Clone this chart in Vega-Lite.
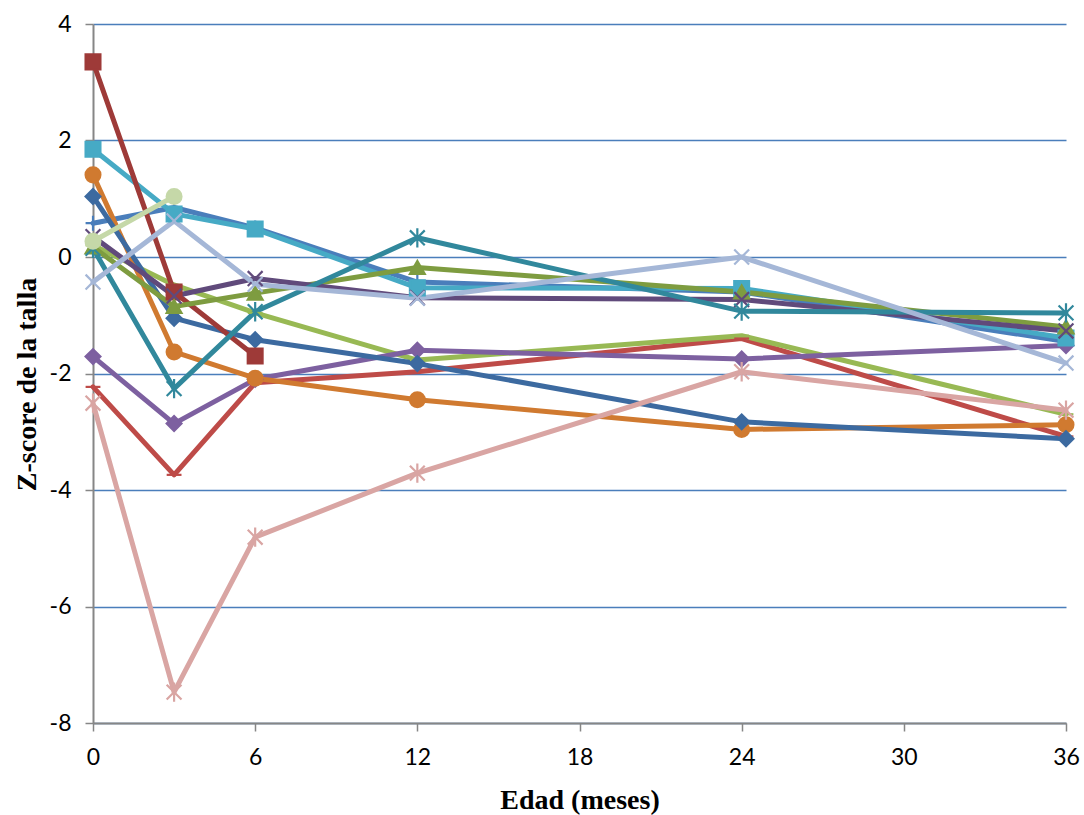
{
  "$schema": "https://vega.github.io/schema/vega-lite/v6.json",
  "width": 973,
  "height": 699,
  "autosize": "none",
  "padding": {"left": 93, "top": 24, "right": 18, "bottom": 92},
  "background": "white",
  "config": {"view": {"stroke": null}},
  "data": {
    "values": [
      {"serie": "S01", "edad": 0, "z": 0.58},
      {"serie": "S01", "edad": 3, "z": 0.85},
      {"serie": "S01", "edad": 6, "z": 0.5},
      {"serie": "S01", "edad": 12, "z": -0.43},
      {"serie": "S01", "edad": 24, "z": -0.6},
      {"serie": "S01", "edad": 36, "z": -1.45},
      {"serie": "S02", "edad": 0, "z": -2.23},
      {"serie": "S02", "edad": 3, "z": -3.74},
      {"serie": "S02", "edad": 6, "z": -2.16},
      {"serie": "S02", "edad": 12, "z": -1.97},
      {"serie": "S02", "edad": 24, "z": -1.4},
      {"serie": "S02", "edad": 36, "z": -3.08},
      {"serie": "S03", "edad": 0, "z": 0.2},
      {"serie": "S03", "edad": 3, "z": -0.48},
      {"serie": "S03", "edad": 6, "z": -0.96},
      {"serie": "S03", "edad": 12, "z": -1.77},
      {"serie": "S03", "edad": 24, "z": -1.35},
      {"serie": "S03", "edad": 36, "z": -2.7},
      {"serie": "S04", "edad": 0, "z": -1.71},
      {"serie": "S04", "edad": 3, "z": -2.86},
      {"serie": "S04", "edad": 6, "z": -2.1},
      {"serie": "S04", "edad": 12, "z": -1.6},
      {"serie": "S04", "edad": 24, "z": -1.75},
      {"serie": "S04", "edad": 36, "z": -1.52},
      {"serie": "S05", "edad": 0, "z": 1.85},
      {"serie": "S05", "edad": 3, "z": 0.74},
      {"serie": "S05", "edad": 6, "z": 0.48},
      {"serie": "S05", "edad": 12, "z": -0.53},
      {"serie": "S05", "edad": 24, "z": -0.54},
      {"serie": "S05", "edad": 36, "z": -1.39},
      {"serie": "S06", "edad": 0, "z": 1.41},
      {"serie": "S06", "edad": 3, "z": -1.63},
      {"serie": "S06", "edad": 6, "z": -2.08},
      {"serie": "S06", "edad": 12, "z": -2.45},
      {"serie": "S06", "edad": 24, "z": -2.96},
      {"serie": "S06", "edad": 36, "z": -2.88},
      {"serie": "S07", "edad": 0, "z": 1.04},
      {"serie": "S07", "edad": 3, "z": -1.05},
      {"serie": "S07", "edad": 6, "z": -1.42},
      {"serie": "S07", "edad": 12, "z": -1.83},
      {"serie": "S07", "edad": 24, "z": -2.83},
      {"serie": "S07", "edad": 36, "z": -3.12},
      {"serie": "S08", "edad": 0, "z": 3.35},
      {"serie": "S08", "edad": 3, "z": -0.6},
      {"serie": "S08", "edad": 6, "z": -1.7},
      {"serie": "S09", "edad": 0, "z": 0.17},
      {"serie": "S09", "edad": 3, "z": -0.85},
      {"serie": "S09", "edad": 6, "z": -0.62},
      {"serie": "S09", "edad": 12, "z": -0.18},
      {"serie": "S09", "edad": 24, "z": -0.6},
      {"serie": "S09", "edad": 36, "z": -1.2},
      {"serie": "S10", "edad": 0, "z": 0.35},
      {"serie": "S10", "edad": 3, "z": -0.67},
      {"serie": "S10", "edad": 6, "z": -0.37},
      {"serie": "S10", "edad": 12, "z": -0.7},
      {"serie": "S10", "edad": 24, "z": -0.73},
      {"serie": "S10", "edad": 36, "z": -1.27},
      {"serie": "S11", "edad": 0, "z": 0.15},
      {"serie": "S11", "edad": 3, "z": -2.26},
      {"serie": "S11", "edad": 6, "z": -0.94},
      {"serie": "S11", "edad": 12, "z": 0.33},
      {"serie": "S11", "edad": 24, "z": -0.93},
      {"serie": "S11", "edad": 36, "z": -0.96},
      {"serie": "S12", "edad": 0, "z": -0.43},
      {"serie": "S12", "edad": 3, "z": 0.62},
      {"serie": "S12", "edad": 6, "z": -0.47},
      {"serie": "S12", "edad": 12, "z": -0.71},
      {"serie": "S12", "edad": 24, "z": 0},
      {"serie": "S12", "edad": 36, "z": -1.82},
      {"serie": "S13", "edad": 0, "z": -2.51},
      {"serie": "S13", "edad": 3, "z": -7.47},
      {"serie": "S13", "edad": 6, "z": -4.81},
      {"serie": "S13", "edad": 12, "z": -3.71},
      {"serie": "S13", "edad": 24, "z": -1.97},
      {"serie": "S13", "edad": 36, "z": -2.63},
      {"serie": "S14", "edad": 0, "z": 0.27},
      {"serie": "S14", "edad": 3, "z": 1.04}
    ]
  },
  "encoding": {
    "x": {
      "field": "edad",
      "type": "quantitative",
      "scale": {"domain": [0, 36], "nice": false, "zero": false},
      "axis": {
        "values": [0, 6, 12, 18, 24, 30, 36],
        "labelExpr": "toString(datum.value)",
        "grid": false,
        "domainColor": "#868686",
        "domainWidth": 2,
        "tickColor": "#868686",
        "tickWidth": 1.5,
        "tickSize": 8,
        "labelFont": "Lato",
        "labelFontSize": 23,
        "labelColor": "#000000",
        "labelPadding": 15,
        "labelFlush": false,
        "title": "Edad (meses)",
        "titleFont": "Liberation Serif",
        "titleFontWeight": "bold",
        "titleFontSize": 28,
        "titleColor": "#000000",
        "titleX": 486.5,
        "titleY": 77,
        "titleAlign": "center",
        "titleBaseline": "middle"
      }
    },
    "y": {
      "field": "z",
      "type": "quantitative",
      "scale": {"domain": [-8, 4], "nice": false, "zero": false},
      "axis": {
        "values": [-8, -6, -4, -2, 0, 2, 4],
        "labelExpr": "toString(datum.value)",
        "grid": true,
        "gridColor": "#4A7EBB",
        "gridWidth": 1.3,
        "domainColor": "#868686",
        "domainWidth": 2,
        "tickColor": "#868686",
        "tickWidth": 1.5,
        "tickSize": 8,
        "labelFont": "Lato",
        "labelFontSize": 23,
        "labelColor": "#000000",
        "labelPadding": 14,
        "labelFlush": false,
        "title": "Z-score de la talla",
        "titleFont": "Liberation Serif",
        "titleFontWeight": "bold",
        "titleFontSize": 28,
        "titleColor": "#000000",
        "titleAngle": -90,
        "titleX": -66,
        "titleY": 360,
        "titleAlign": "center",
        "titleBaseline": "middle"
      }
    }
  },
  "layer": [
    {
      "mark": {"type": "line", "strokeWidth": 5, "strokeJoin": "round", "strokeCap": "round"},
      "encoding": {
        "color": {
          "field": "serie",
          "type": "nominal",
          "scale": {
            "domain": ["S01", "S02", "S03", "S04", "S05", "S06", "S07", "S08", "S09", "S10", "S11", "S12", "S13", "S14"],
            "range": ["#4A7EBB", "#BE4B48", "#98B954", "#7D60A0", "#46AAC5", "#D07A30", "#3C6AA0", "#9E3A38", "#7E9C40", "#604A7B", "#31889C", "#A5B7D7", "#D9A5A3", "#C5D8A8"]
          },
          "legend": null
        }
      }
    },
    {
      "mark": {"type": "point", "filled": true, "opacity": 1, "strokeWidth": 2.2, "size": 220},
      "encoding": {
        "shape": {
          "field": "serie",
          "type": "nominal",
          "scale": {
            "domain": ["S01", "S02", "S03", "S04", "S05", "S06", "S07", "S08", "S09", "S10", "S11", "S12", "S13", "S14"],
            "range": [
              "M-1,0L1,0M0,-1L0,1",
              "M-1,0L1,0",
              "M-1,0L1,0",
              "diamond",
              "square",
              "circle",
              "diamond",
              "square",
              "triangle-up",
              "M-1,-1L1,1M1,-1L-1,1",
              "M-1,-1L1,1M1,-1L-1,1M0,-1.3L0,1.3",
              "M-1,-1L1,1M1,-1L-1,1",
              "M-1,-1L1,1M1,-1L-1,1M0,-1.3L0,1.3",
              "circle"
            ]
          },
          "legend": null
        },
        "fill": {
          "field": "serie",
          "type": "nominal",
          "scale": {
            "domain": ["S01", "S02", "S03", "S04", "S05", "S06", "S07", "S08", "S09", "S10", "S11", "S12", "S13", "S14"],
            "range": ["#4A7EBB", "#BE4B48", "#98B954", "#7D60A0", "#46AAC5", "#D07A30", "#3C6AA0", "#9E3A38", "#7E9C40", "#604A7B", "#31889C", "#A5B7D7", "#D9A5A3", "#C5D8A8"]
          },
          "legend": null
        },
        "stroke": {
          "field": "serie",
          "type": "nominal",
          "scale": {
            "domain": ["S01", "S02", "S03", "S04", "S05", "S06", "S07", "S08", "S09", "S10", "S11", "S12", "S13", "S14"],
            "range": ["#4A7EBB", "#BE4B48", "#98B954", "#7D60A0", "#46AAC5", "#D07A30", "#3C6AA0", "#9E3A38", "#7E9C40", "#604A7B", "#31889C", "#A5B7D7", "#D9A5A3", "#C5D8A8"]
          },
          "legend": null
        }
      }
    }
  ]
}
